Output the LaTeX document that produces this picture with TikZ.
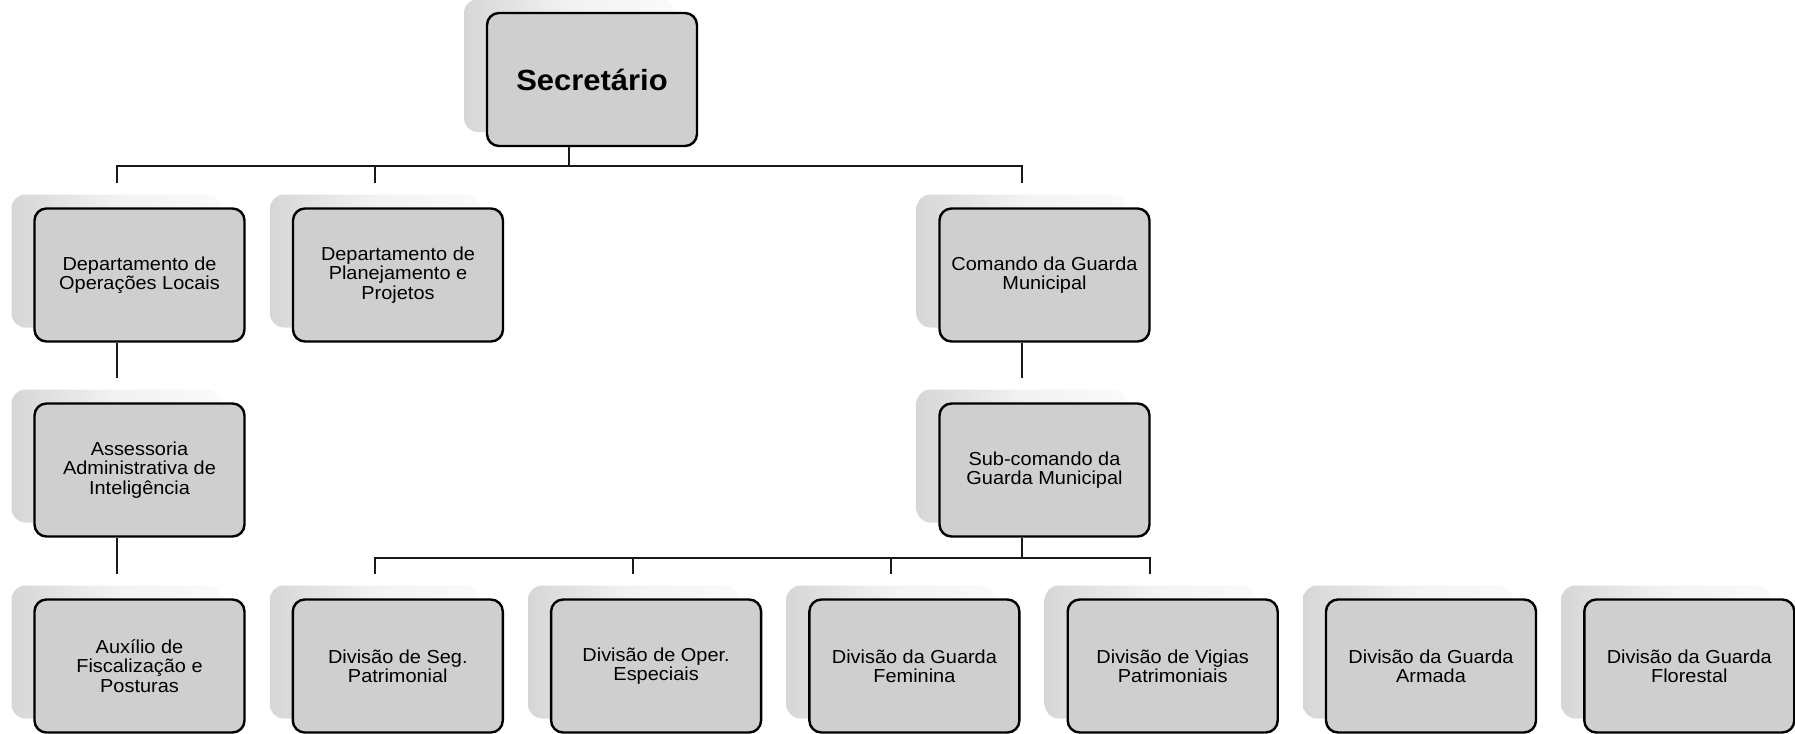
\documentclass[tikz,border=0pt]{standalone}
\usepackage{fontspec}
\setmainfont{Liberation Sans}
\newfontfamily\boxfont[FakeStretch=1.06]{Liberation Sans}
\usetikzlibrary{calc}
\pgfdeclarelayer{bg}
\pgfdeclarelayer{mid}
\pgfsetlayers{bg,mid,main}
\definecolor{boxgray}{HTML}{CFCFCF}
\tikzset{
  orgbox/.style={draw=black, line width=1.2pt, fill=boxgray, rounded corners=6pt,
    minimum width=105pt, minimum height=66.5pt, inner sep=0pt, align=center,
    font=\boxfont\fontsize{9.4}{9.6}\selectfont},
  shadowbox/.style={rounded corners=7pt, minimum width=105pt, minimum height=66.5pt,
    inner sep=0pt, left color=black!16, right color=black!2, middle color=black!5, draw=none},
  conn/.style={line width=1pt, draw=black!90},
}
\newcommand{\orgnode}[4]{%
  \begin{pgfonlayer}{bg}\node[shadowbox] (#1-sh) at ($(#2,#3)+(-23,-14)$) {};\end{pgfonlayer}
  \node[orgbox] (#1) at (#2,#3) {#4};}
\begin{document}
\begin{tikzpicture}[x=0.5pt,y=-0.5pt]
\useasboundingbox (0,0) rectangle (1795,734);
% top
\orgnode{sec}{592}{79.5}{\bfseries\fontsize{14.6}{16}\selectfont Secret\'ario}
% row 2
\orgnode{dop}{139.5}{275}{Departamento de\\Opera\c{c}\~oes Locais}
\orgnode{dpl}{398}{275}{Departamento de\\Planejamento e\\Projetos}
\orgnode{com}{1044.5}{275}{Comando da Guarda\\Municipal}
% row 3
\orgnode{ass}{139.5}{470}{Assessoria\\Administrativa de\\Intelig\^encia}
\orgnode{sub}{1044.5}{470}{Sub-comando da\\Guarda Municipal}
% row 4
\orgnode{aux}{139.5}{666}{Aux\'ilio de\\Fiscaliza\c{c}\~ao e\\Posturas}
\orgnode{seg}{397.8}{666}{Divis\~ao de Seg.\\Patrimonial}
\orgnode{ope}{656.1}{666}{Divis\~ao de Oper.\\Especiais}
\orgnode{fem}{914.4}{666}{Divis\~ao da Guarda\\Feminina}
\orgnode{vig}{1172.7}{666}{Divis\~ao de Vigias\\Patrimoniais}
\orgnode{arm}{1431}{666}{Divis\~ao da Guarda\\Armada}
\orgnode{flo}{1689.3}{666}{Divis\~ao da Guarda\\Florestal}
\coordinate (bus1) at (0,166);
\coordinate (bus2) at (0,558);
\begin{pgfonlayer}{mid}
\draw[conn] (sec.south -| sec-sh.center) -- (sec-sh.center |- bus1);
\draw[conn] ($(dop-sh.center |- dop.north)+(0,-24)$) -- (dop-sh.center |- bus1)
   -- (com-sh.center |- bus1) -- ($(com-sh.center |- com.north)+(0,-24)$);
\draw[conn] (dpl-sh.center |- bus1) -- ($(dpl-sh.center |- dpl.north)+(0,-24)$);
\draw[conn] (dop.south -| dop-sh.center) -- ($(ass-sh.center |- ass.north)+(0,-24)$);
\draw[conn] (com.south -| com-sh.center) -- ($(sub-sh.center |- sub.north)+(0,-24)$);
\draw[conn] (ass.south -| ass-sh.center) -- ($(aux-sh.center |- aux.north)+(0,-24)$);
\draw[conn] (sub.south -| sub-sh.center) -- (sub-sh.center |- bus2);
\draw[conn] ($(seg-sh.center |- seg.north)+(0,-24)$) -- (seg-sh.center |- bus2)
   -- (vig-sh.center |- bus2) -- ($(vig-sh.center |- vig.north)+(0,-24)$);
\draw[conn] (ope-sh.center |- bus2) -- ($(ope-sh.center |- ope.north)+(0,-24)$);
\draw[conn] (fem-sh.center |- bus2) -- ($(fem-sh.center |- fem.north)+(0,-24)$);
\end{pgfonlayer}
\end{tikzpicture}
\end{document}
